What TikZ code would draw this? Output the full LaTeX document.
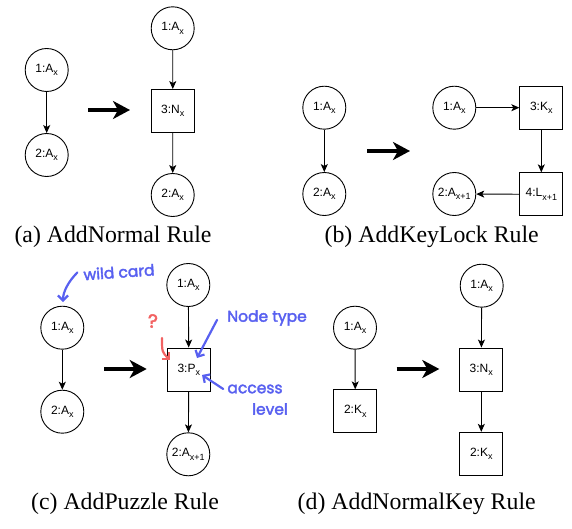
\documentclass[tikz,border=0pt]{standalone}
\usepackage{fontspec}
\setmainfont{Liberation Serif}
\setsansfont{Liberation Sans}
\newfontfamily\handfont[FakeBold=2.5]{Poppins}
\usetikzlibrary{arrows.meta}

\definecolor{penblue}{RGB}{88,96,240}
\definecolor{penred}{RGB}{242,98,98}

\newcommand{\lbl}[2]{#1\raisebox{-0.5ex}{\fontsize{9}{9}\selectfont #2}}

\tikzset{
  room/.style={circle, draw, line width=0.9pt, minimum size=43pt, inner sep=0pt,
    font=\sffamily\fontsize{12}{12}\selectfont},
  item/.style={rectangle, draw, line width=0.9pt, minimum size=43pt, inner sep=0pt,
    font=\sffamily\fontsize{12}{12}\selectfont},
  link/.style={-{Stealth[length=8pt,width=7pt,inset=2pt]}, line width=0.9pt},
  rewrite/.style={-{Stealth[length=17pt,width=18pt,inset=5pt]}, line width=4pt},
  subcap/.style={font=\fontsize{23.8}{28}\selectfont},
  note/.style={text=penblue, font=\handfont\fontsize{15.5}{15.5}\selectfont, inner sep=0pt},
  pen/.style={draw=penblue, line width=2.2pt, line cap=round, line join=round,
    -{Straight Barb[length=5pt,width=10pt]}},
}

\begin{document}
\begin{tikzpicture}[x=1pt, y=-1pt]
    \useasboundingbox (0,0) rectangle (572,529);
    %
    % (a) AddNormal
    \node [room] (a1)  at (46.7,70)   {\lbl{1:A}{x}};
    \node [room] (a2)  at (46.7,155)  {\lbl{2:A}{x}};
    \node [room] (a1r) at (172.7,28.3) {\lbl{1:A}{x}};
    \node [item] (a3r) at (172.8,111)  {\lbl{3:N}{x}};
    \node [room] (a2r) at (172.7,195)  {\lbl{2:A}{x}};
    \coordinate (aS) at (88,110);
    \coordinate (aE) at (130,110);
    \node [subcap] (capA) at (113,237) {(a) AddNormal Rule};
    %
    \draw [link] (a1) -- (a2);
    \draw [link] (a1r) -- (a3r);
    \draw [link] (a3r) -- (a2r);
    \draw [rewrite] (aS) -- (aE);
    %
    % (b) AddKeyLock
    \node [room] (b1)  at (324.3,107.7) {\lbl{1:A}{x}};
    \node [room] (b2)  at (324.3,194)   {\lbl{2:A}{x}};
    \node [room] (b1r) at (454.3,107.7) {\lbl{1:A}{x}};
    \node [item] (b3r) at (541.3,107.7) {\lbl{3:K}{x}};
    \node [item] (b4r) at (541.3,194.3) {\lbl{4:L}{x+1}};
    \node [room] (b2r) at (454.3,194)   {\lbl{2:A}{x+1}};
    \coordinate (bS) at (367.3,151);
    \coordinate (bE) at (410,151);
    \node [subcap] (capB) at (431.7,237) {(b) AddKeyLock Rule};
    %
    \draw [link] (b1) -- (b2);
    \draw [link] (b1r) -- (b3r);
    \draw [link] (b3r) -- (b4r);
    \draw [link] (b4r) -- (b2r);
    \draw [rewrite] (bS) -- (bE);
    %
    % (c) AddPuzzle
    \node [room] (c1)  at (62.3,327.7) {\lbl{1:A}{x}};
    \node [room] (c2)  at (62.3,411.7) {\lbl{2:A}{x}};
    \node [room] (c1r) at (188.3,285)  {\lbl{1:A}{x}};
    \node [item] (c3r) at (188.8,369.5) {\lbl{3:P}{x}};
    \node [room] (c2r) at (188.3,454.3) {\lbl{2:A}{x+1}};
    \coordinate (cS) at (104,369);
    \coordinate (cE) at (146.7,369);
    \node [subcap] (capC) at (125,503.5) {(c) AddPuzzle Rule};
    %
    \draw [link] (c1) -- (c2);
    \draw [link] (c1r) -- (c3r);
    \draw [link] (c3r) -- (c2r);
    \draw [rewrite] (cS) -- (cE);
    %
    % scribbled notes on (c)
    \node [note, rotate=4] (wild) at (119,272) {wild card};
    \node [note] (ntype) at (267,318) {Node type};
    \node [note] (acc)   at (255,389) {access};
    \node [note] (lvl)   at (270,409) {level};
    \node [text=penred, font=\handfont\fontsize{19}{19}\selectfont, inner sep=0pt] (qm) at (153,321) {?};
    \coordinate (wildE) at (63,302);
    \coordinate (ntypeE) at (197,358);
    \coordinate (accE) at (202,375);
    \coordinate (qmS) at (162,338);
    \coordinate (qmE) at (170,360);
    \draw [pen] ([xshift=-6pt,yshift=2pt]wild.west) .. controls (68,282) and (63,292) .. (wildE);
    \draw [pen] ([xshift=-10pt,yshift=6pt]ntype.south west) -- (ntypeE);
    \draw [pen] ([xshift=-4pt]acc.west) -- (accE);
    \draw [pen, draw=penred] (qmS) .. controls (162,352) .. (qmE);
    %
    % (d) AddNormalKey
    \node [room] (d1)  at (355,327.7)   {\lbl{1:A}{x}};
    \node [item] (d2)  at (355.3,411.3) {\lbl{2:K}{x}};
    \node [room] (d1r) at (481.7,285.7) {\lbl{1:A}{x}};
    \node [item] (d3r) at (481.3,369.5) {\lbl{3:N}{x}};
    \node [item] (d2r) at (481.3,453.8) {\lbl{2:K}{x}};
    \coordinate (dS) at (396.7,369);
    \coordinate (dE) at (439.3,369);
    \node [subcap] (capD) at (416.7,503.5) {(d) AddNormalKey Rule};
    %
    \draw [link] (d1) -- (d2);
    \draw [link] (d1r) -- (d3r);
    \draw [link] (d3r) -- (d2r);
    \draw [rewrite] (dS) -- (dE);
\end{tikzpicture}
\end{document}
